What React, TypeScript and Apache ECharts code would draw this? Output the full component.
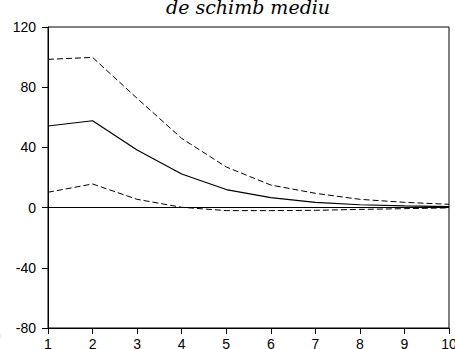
import React, { useEffect, useRef } from "react";
import * as echarts from "echarts";

const categories = ["1", "2", "3", "4", "5", "6", "7", "8", "9", "10"];
const upperBand = [98.5, 99.8, 72.6, 46, 27, 15, 9.5, 5.5, 3.5, 2.2];
const response = [54.2, 57.7, 38.3, 22.3, 12, 6.6, 3.5, 1.9, 1.1, 0.6];
const lowerBand = [10.2, 15.7, 5.5, 0.2, -2, -2, -1.8, -1.2, -0.7, -0.2];
const yTicks = { min: -80, max: 120, interval: 40 };
const titleText = "de schimb mediu";

export default function App() {
  const ref = useRef<HTMLDivElement>(null);
  useEffect(() => {
    if (!ref.current) return;
    const chart = echarts.init(ref.current, null, { renderer: "svg" });
    const font = "Arial";
    chart.setOption({
      animation: false,
      backgroundColor: "#ffffff",
      title: {
        text: titleText,
        left: 166,
        top: -3,
        padding: 0,
        textStyle: {
          fontFamily: "DejaVu Serif",
          fontStyle: "italic",
          fontWeight: "normal",
          fontSize: 19,
          color: "#000",
        },
      },
      grid: {
        left: 48,
        right: 6,
        top: 27,
        bottom: 21,
        show: true,
        borderColor: "#000",
        borderWidth: 1,
        containLabel: false,
        outerBoundsMode: "none",
      },
      graphic: [
        {
          type: "text",
          x: -4,
          y: 328,
          style: { text: ")", fontFamily: font, fontSize: 14, fill: "#000" },
        },
      ],
      xAxis: {
        type: "category",
        data: categories,
        boundaryGap: false,
        axisLine: { lineStyle: { color: "#000", width: 1 }, onZero: false },
        axisTick: { show: true, length: 6, lineStyle: { color: "#000" }, alignWithLabel: true },
        axisLabel: { color: "#000", fontSize: 14, fontFamily: font, margin: 9, showMaxLabel: true },
        splitLine: { show: false },
      },
      yAxis: {
        type: "value",
        min: yTicks.min,
        max: yTicks.max,
        interval: yTicks.interval,
        axisLine: { show: true, lineStyle: { color: "#000", width: 1 } },
        axisTick: { show: true, length: 6, lineStyle: { color: "#000" } },
        axisLabel: { color: "#000", fontSize: 14, fontFamily: font, margin: 12 },
        splitLine: { show: false },
      },
      series: [
        {
          type: "line",
          data: upperBand,
          symbol: "none",
          lineStyle: { color: "#000", width: 1, type: [6, 3] },
        },
        {
          type: "line",
          data: response,
          symbol: "none",
          lineStyle: { color: "#000", width: 1.2 },
          markLine: {
            silent: true,
            symbol: "none",
            label: { show: false },
            lineStyle: { color: "#000", width: 1, type: "solid" },
            data: [{ yAxis: 0 }],
          },
        },
        {
          type: "line",
          data: lowerBand,
          symbol: "none",
          lineStyle: { color: "#000", width: 1, type: [6, 3] },
        },
      ],
    });
    return () => chart.dispose();
  }, []);
  return (
    <div
      ref={ref}
      style={{ position: "fixed", left: 0, top: 0, width: 455, height: 349 }}
    />
  );
}
